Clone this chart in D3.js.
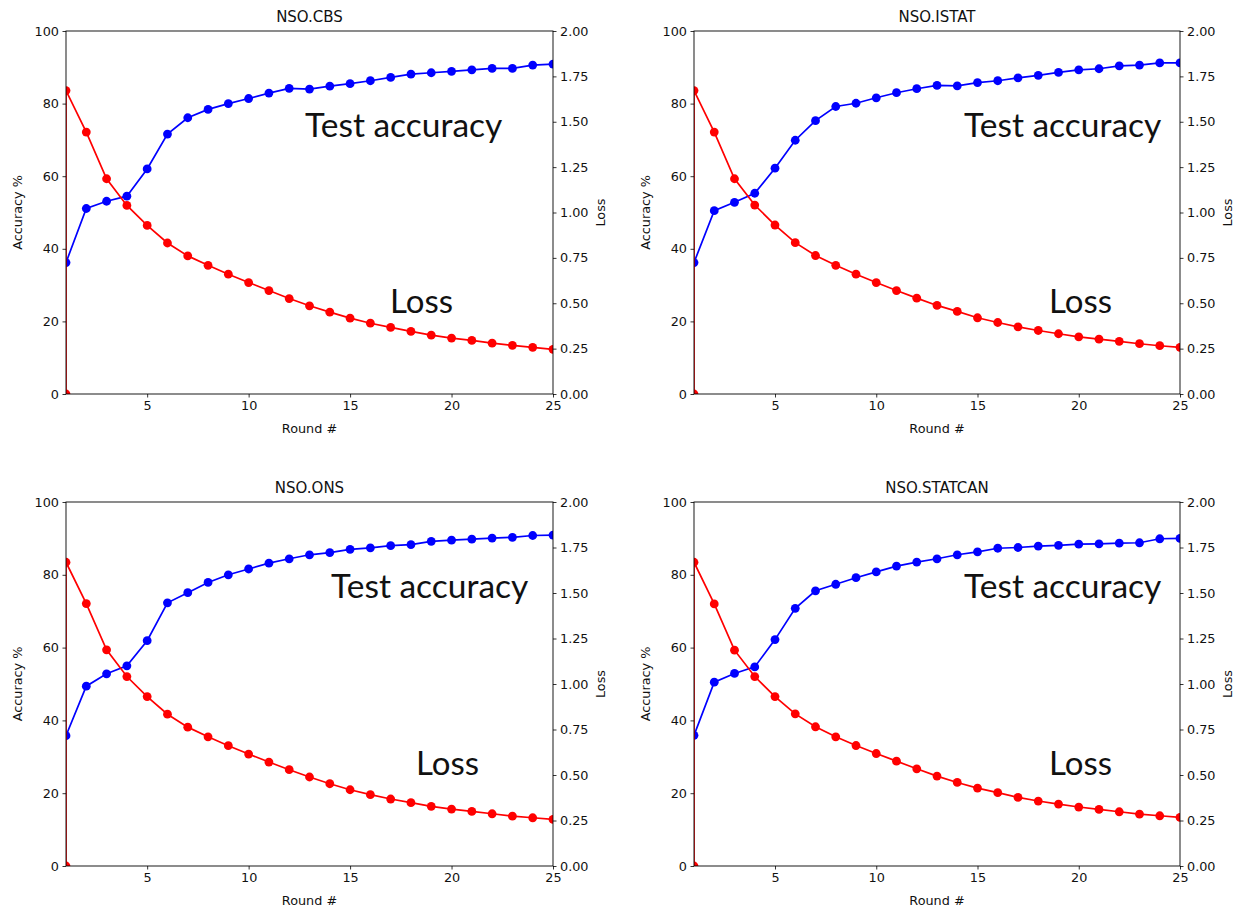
<!DOCTYPE html>
<html><head><meta charset="utf-8">
<script src="https://cdn.jsdelivr.net/npm/d3@7"></script>
<style>
body{margin:0;background:#fff}
svg text{font-family:"DejaVu Sans",sans-serif;fill:#111}
</style>
</head><body>
<svg id="c" width="1242" height="907"></svg>
<script>
const rounds=[1,2,3,4,5,6,7,8,9,10,11,12,13,14,15,16,17,18,19,20,21,22,23,24,25];
const lossRounds=[1].concat(rounds);
const titles=["NSO.CBS","NSO.ISTAT","NSO.ONS","NSO.STATCAN"];

const accCBS=[36.2,51.1,53.1,54.5,62.0,71.6,76.1,78.4,80.0,81.4,82.9,84.2,84.0,84.8,85.5,86.3,87.2,88.1,88.5,88.9,89.3,89.7,89.7,90.6,90.9];
const lossCBS=[0,1.672,1.443,1.186,1.039,0.929,0.832,0.761,0.709,0.660,0.614,0.570,0.526,0.486,0.451,0.418,0.390,0.367,0.345,0.324,0.308,0.295,0.280,0.268,0.257,0.246];

const accISTAT=[36.2,50.5,52.8,55.3,62.2,69.9,75.3,79.2,80.1,81.6,83.0,84.1,85.0,84.9,85.8,86.3,87.1,87.8,88.6,89.3,89.6,90.4,90.6,91.2,91.2];
const lossISTAT=[0,1.672,1.443,1.186,1.041,0.931,0.834,0.763,0.709,0.660,0.614,0.570,0.528,0.488,0.455,0.420,0.394,0.370,0.350,0.332,0.315,0.302,0.290,0.277,0.266,0.257];

const accONS=[35.8,49.4,52.8,55.0,61.9,72.3,75.1,77.9,80.0,81.6,83.2,84.4,85.5,86.1,87.0,87.4,88.0,88.3,89.2,89.5,89.8,90.1,90.3,90.8,90.9];
const lossONS=[0,1.669,1.442,1.188,1.041,0.931,0.834,0.763,0.710,0.661,0.615,0.571,0.529,0.489,0.452,0.419,0.392,0.368,0.348,0.328,0.313,0.300,0.287,0.274,0.265,0.256];

const accSTATCAN=[35.9,50.5,52.9,54.7,62.2,70.8,75.6,77.4,79.2,80.8,82.4,83.5,84.4,85.5,86.3,87.3,87.5,87.9,88.1,88.4,88.5,88.7,88.8,89.9,90.0];
const lossSTATCAN=[0,1.669,1.440,1.186,1.041,0.931,0.836,0.765,0.710,0.662,0.618,0.576,0.534,0.494,0.459,0.428,0.403,0.377,0.357,0.340,0.324,0.311,0.298,0.285,0.276,0.267];

const accTicks=[0,20,40,60,80,100];
const lossTicks=[0,0.25,0.5,0.75,1,1.25,1.5,1.75,2];
const xTicks=[5,10,15,20,25];
const accLabel="Test accuracy", lossLabel="Loss";

const accSeries=[accCBS,accISTAT,accONS,accSTATCAN];
const lossSeries=[lossCBS,lossISTAT,lossONS,lossSTATCAN];

// layout
const boxes=[
  {x0:66,x1:553,y0:31,y1:394, ta:[305,137], tl:[390,313]},
  {x0:694,x1:1180,y0:31,y1:394, ta:[964,137], tl:[1049,313]},
  {x0:66,x1:553,y0:502,y1:866, ta:[331,598], tl:[416,775]},
  {x0:694,x1:1180,y0:502,y1:866, ta:[964,598], tl:[1049,775]}
];

const svg=d3.select("#c");

boxes.forEach((b,i)=>{
  const g=svg.append("g");
  const x=d3.scaleLinear().domain([1,25]).range([b.x0,b.x1]);
  const yA=d3.scaleLinear().domain([0,100]).range([b.y1,b.y0]);
  const yL=d3.scaleLinear().domain([0,2]).range([b.y1,b.y0]);
  const cid="clip"+i;
  svg.append("clipPath").attr("id",cid).append("rect")
    .attr("x",b.x0).attr("y",b.y0).attr("width",b.x1-b.x0).attr("height",b.y1-b.y0);

  const plot=g.append("g").attr("clip-path",`url(#${cid})`);
  const acc=accSeries[i], loss=lossSeries[i];
  const accPts=rounds.map((r,k)=>[x(r),yA(acc[k])]);
  const lossPts=lossRounds.map((r,k)=>[x(r),yL(loss[k])]);
  plot.append("path").attr("d",d3.line()(accPts)).attr("fill","none").attr("stroke","#0000ff").attr("stroke-width",1.7);
  plot.selectAll(null).data(accPts).enter().append("circle").attr("cx",d=>d[0]).attr("cy",d=>d[1]).attr("r",4.4).attr("fill","#0000ff");
  plot.append("path").attr("d",d3.line()(lossPts)).attr("fill","none").attr("stroke","#ff0000").attr("stroke-width",1.7);
  plot.selectAll(null).data(lossPts).enter().append("circle").attr("cx",d=>d[0]).attr("cy",d=>d[1]).attr("r",4.4).attr("fill","#ff0000");

  // axes
  const ax=g.append("g").attr("transform",`translate(0,${b.y1})`)
    .call(d3.axisBottom(x).tickValues(xTicks).tickSize(3.5).tickPadding(3.5).tickFormat(d3.format("d")));
  const ay=g.append("g").attr("transform",`translate(${b.x0},0)`)
    .call(d3.axisLeft(yA).tickValues(accTicks).tickSize(3.5).tickPadding(3.5).tickFormat(d3.format("d")));
  const ar=g.append("g").attr("transform",`translate(${b.x1},0)`)
    .call(d3.axisRight(yL).tickValues(lossTicks).tickSize(3.5).tickPadding(3.5).tickFormat(d3.format(".2f")));
  [ax,ay,ar].forEach(a=>{
    a.select(".domain").remove();
    a.selectAll(".tick line").attr("stroke","#000").attr("stroke-width",0.8);
    a.selectAll(".tick text").attr("font-size",12.8).attr("fill","#222").style("font-family","DejaVu Sans");
  });

  // spines
  g.append("rect").attr("x",b.x0).attr("y",b.y0).attr("width",b.x1-b.x0).attr("height",b.y1-b.y0)
    .attr("fill","none").attr("stroke","#000").attr("stroke-width",0.9);

  // titles & labels
  const cx=(b.x0+b.x1)/2, cy=(b.y0+b.y1)/2;
  g.append("text").attr("x",cx).attr("y",b.y0-9).attr("text-anchor","middle").attr("font-size",15).text(titles[i]);
  g.append("text").attr("x",cx).attr("y",b.y1+39).attr("text-anchor","middle").attr("font-size",12.8).text("Round #");
  g.append("text").attr("transform",`translate(${b.x0-44},${cy}) rotate(-90)`).attr("text-anchor","middle").attr("font-size",12.8).text("Accuracy %");
  g.append("text").attr("transform",`translate(${b.x1+52},${cy}) rotate(-90)`).attr("text-anchor","middle").attr("font-size",12.8).text("Loss");

  // annotations
  g.append("text").attr("x",b.ta[0]).attr("y",b.ta[1]).style("font-family","Lato").attr("font-size",33.5).attr("fill","#000").text(accLabel);
  g.append("text").attr("x",b.tl[0]).attr("y",b.tl[1]).style("font-family","Lato").attr("font-size",33).attr("fill","#000").text(lossLabel);
});
</script>
</body></html>
